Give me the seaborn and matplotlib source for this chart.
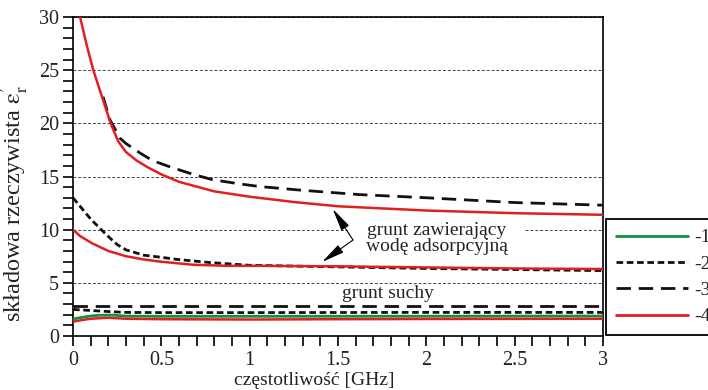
import numpy as np
import pandas as pd
import matplotlib
matplotlib.use("Agg")
import matplotlib.pyplot as plt
from matplotlib.lines import Line2D
from matplotlib.ticker import MultipleLocator, FixedLocator
import seaborn as sns

# ---------------- data ----------------
# series 1 (green) - dry soil
f_g1 = [0, 0.05, 0.1, 0.15, 0.22, 0.3, 0.5, 1.0, 2.0, 3.0]
e_g1 = [1.6, 1.75, 1.88, 1.95, 1.97, 1.87, 1.85, 1.85, 1.86, 1.88]

# series 2 (dotted) - dry and wet soil
f_d2 = [0, 0.1, 0.2, 0.3, 0.5, 1.0, 2.0, 3.0]
e_d2 = [2.5, 2.4, 2.3, 2.22, 2.2, 2.2, 2.22, 2.22]
f_w2 = [0, 0.05, 0.1, 0.16, 0.21, 0.25, 0.3, 0.4, 0.5, 0.59, 0.78, 1.0, 1.5, 2.0, 2.5, 3.0]
e_w2 = [13.0, 12.0, 11.0, 10.0, 9.2, 8.6, 8.1, 7.6, 7.4, 7.2, 6.9, 6.65, 6.5, 6.35, 6.25, 6.15]

# series 3 (dashed) - dry and wet soil
f_d3 = [0, 0.5, 1.0, 1.5, 2.0, 2.5, 3.0]
e_d3 = [2.8, 2.8, 2.8, 2.8, 2.8, 2.8, 2.8]
f_w3 = [0.17, 0.21, 0.266, 0.30, 0.38, 0.45, 0.55, 0.68, 0.79, 0.945, 1.06, 1.3, 1.62, 2.0, 2.5, 3.0]
e_w3 = [22.5, 20.3, 18.6, 18.1, 17.2, 16.5, 15.9, 15.2, 14.7, 14.3, 14.05, 13.7, 13.3, 13.0, 12.55, 12.3]

# series 4 (red) - dry soil and two wet curves
f_d4 = [0, 0.05, 0.1, 0.2, 0.3, 0.5, 1.0, 1.5, 2.0, 3.0]
e_d4 = [1.35, 1.5, 1.62, 1.72, 1.62, 1.58, 1.55, 1.58, 1.6, 1.62]
f_w4a = [0.04, 0.08, 0.115, 0.17, 0.213, 0.256, 0.30, 0.36, 0.43, 0.5, 0.6, 0.8, 1.0, 1.25, 1.5, 2.0, 2.5, 3.0]
e_w4a = [30, 27.2, 25.0, 22.2, 20.0, 18.3, 17.3, 16.5, 15.8, 15.2, 14.5, 13.6, 13.1, 12.6, 12.2, 11.8, 11.55, 11.4]
f_w4b = [0, 0.04, 0.11, 0.2, 0.3, 0.4, 0.49, 0.68, 0.87, 1.06, 1.5, 2.0, 2.5, 3.0]
e_w4b = [10.0, 9.4, 8.7, 8.0, 7.5, 7.2, 7.0, 6.7, 6.6, 6.6, 6.55, 6.45, 6.35, 6.3]

x_ticks = [0, 0.5, 1, 1.5, 2, 2.5, 3]
x_tick_labels = ["0", "0.5", "1", "1.5", "2", "2.5", "3"]
y_ticks = [0, 5, 10, 15, 20, 25, 30]
legend_labels = ["-1", "-2", "-3", "-4"]

# ---------------- style ----------------
sns.set_style("ticks")
plt.rcParams["font.family"] = ["Liberation Serif", "DejaVu Serif"]
plt.rcParams["mathtext.fontset"] = "stix"
plt.rcParams["font.size"] = 14

GREEN = "#109040"
RED = "#e02020"
BLACK = "#111111"
DOT = (0, (2.4, 1.3))
DASH = (0, (5.2, 2.8))

fig = plt.figure(figsize=(7.08, 3.9), dpi=100)
ax = fig.add_axes([73 / 708, 1 - 336 / 390, 530 / 708, 319 / 390])

curves = [
    (f_g1, e_g1, GREEN, "-", 2.0),
    (f_d2, e_d2, BLACK, DOT, 2.0),
    (f_w2, e_w2, BLACK, DOT, 2.0),
    (f_d3, e_d3, BLACK, DASH, 2.0),
    (f_w3, e_w3, BLACK, DASH, 2.0),
    (f_d4, e_d4, RED, "-", 1.8),
    (f_w4a, e_w4a, RED, "-", 1.8),
    (f_w4b, e_w4b, RED, "-", 1.8),
]
for fx, ey, col, ls, lw in curves:
    df = pd.DataFrame({"f": fx, "e": ey})
    sns.lineplot(data=df, x="f", y="e", ax=ax, color=col, linestyle=ls,
                 linewidth=lw, zorder=3, clip_on=True)

ax.set_xlim(0, 3)
ax.set_ylim(0, 30)
ax.xaxis.set_major_locator(FixedLocator(x_ticks))
ax.set_xticklabels(x_tick_labels)
ax.xaxis.set_minor_locator(MultipleLocator(0.1))
ax.yaxis.set_major_locator(FixedLocator(y_ticks))
ax.yaxis.set_minor_locator(MultipleLocator(1))
ax.tick_params(which="both", direction="out", length=7, width=1.2,
               color="black", labelsize=14.5, labelcolor="#222222")
ax.tick_params(axis="x", pad=4)
ax.tick_params(axis="y", pad=3)
for sp in ax.spines.values():
    sp.set_visible(True)
    sp.set_color("black")
    sp.set_linewidth(1.2)

ax.set_axisbelow(True)
ax.yaxis.grid(True, which="major", linestyle=(0, (3, 2)), linewidth=0.7,
              color="#444444")

ax.set_xlabel("częstotliwość [GHz]", fontsize=14, color="#222222")
ax.xaxis.set_label_coords(0.455, -0.112)
ax.set_ylabel(r"składowa rzeczywista $\mathrm{\varepsilon}_{\mathrm{r}}^{\prime}$",
              fontsize=17.5, color="#222222")
ax.yaxis.set_label_coords(-0.080, 0.414)

# annotations
ax.text(2.06, 9.2, "grunt zawierający\nwodę adsorpcyjną", ha="center",
        va="center", fontsize=14, color="#222222", linespacing=0.9,
        zorder=1.5,
        bbox=dict(boxstyle="square,pad=0.9", facecolor="white",
                  edgecolor="none"))
ax.text(1.78, 4.0, "grunt suchy", ha="center", va="center", fontsize=14,
        color="#222222")
for tip in [(1.47, 11.95), (1.41, 6.96)]:
    ax.annotate("", xy=tip, xytext=(1.585, 9.03),
                arrowprops=dict(arrowstyle="-|>,head_length=1.0,head_width=0.2",
                                color="black", lw=0.8, mutation_scale=14,
                                shrinkA=0, shrinkB=0), zorder=4)

handles = [
    Line2D([], [], color=GREEN, lw=2.0, linestyle="-"),
    Line2D([], [], color=BLACK, lw=2.0, linestyle=DOT),
    Line2D([], [], color=BLACK, lw=2.0, linestyle=DASH),
    Line2D([], [], color=RED, lw=2.0, linestyle="-"),
]
leg = fig.legend(handles, legend_labels, loc="upper left",
                 bbox_to_anchor=(606 / 708, 1 - 219 / 390),
                 bbox_transform=fig.transFigure, borderaxespad=0,
                 frameon=True, fancybox=False, framealpha=1,
                 edgecolor="black", fontsize=14, handlelength=3.7,
                 handletextpad=0.35, labelspacing=0.45, borderpad=0.5)
leg.get_frame().set_linewidth(1.3)
for t in leg.get_texts():
    t.set_color("#222222")

fig.savefig("out.png", dpi=100)
